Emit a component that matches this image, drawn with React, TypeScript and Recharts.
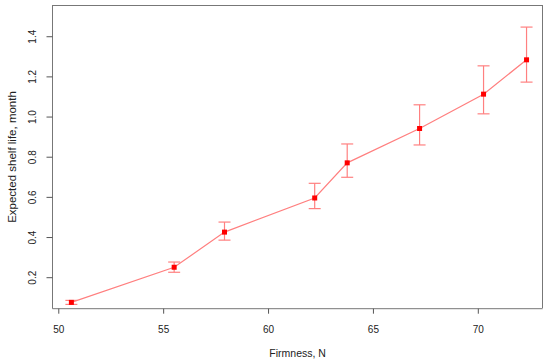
import React from "react";
import { LineChart, Line, XAxis, YAxis, ErrorBar } from "recharts";

const firmness = [50.6, 55.5, 57.9, 62.2, 63.75, 67.2, 70.25, 72.3];
const shelfLife = [0.077, 0.252, 0.427, 0.597, 0.772, 0.943, 1.114, 1.285];
const lower = [0.067, 0.227, 0.387, 0.544, 0.7, 0.861, 1.016, 1.174];
const upper = [0.087, 0.278, 0.477, 0.67, 0.866, 1.061, 1.255, 1.448];
const xTicks = [50, 55, 60, 65, 70];
const yTicks = [0.2, 0.4, 0.6, 0.8, 1.0, 1.2, 1.4];

const data = firmness.map((f, i) => ({
  x: f,
  y: shelfLife[i],
  err: [shelfLife[i] - lower[i], upper[i] - shelfLife[i]],
}));

const FONT = "'Liberation Sans', Arial, Helvetica, sans-serif";
const TEXT = "#222";
const BOX = "#777";

const YTick = (props: any) => {
  const { y, payload } = props;
  const cx = 33;
  return (
    <text
      x={cx}
      y={y}
      dy="0.35em"
      transform={`rotate(-90, ${cx}, ${y})`}
      textAnchor="middle"
      fontSize={10}
      fill={TEXT}
      fontFamily={FONT}
    >
      {Number(payload.value).toFixed(1)}
    </text>
  );
};

const XTick = (props: any) => {
  const { x, payload } = props;
  return (
    <text x={x} y={332.5} textAnchor="middle" fontSize={10} fill={TEXT} fontFamily={FONT}>
      {payload.value}
    </text>
  );
};

const Dot = (props: any) => {
  const { cx, cy, index } = props;
  if (cx == null || cy == null) return <g key={index} />;
  return <rect key={index} x={cx - 2.5} y={cy - 2.5} width={5} height={5} fill="#ff0000" />;
};

export default function App() {
  return (
    <div style={{ position: "absolute", left: 0, top: 0, width: 550, height: 363 }}>
      <LineChart
        width={550}
        height={363}
        data={data}
        margin={{ top: 5, right: 7.3, bottom: 0, left: 0 }}
        style={{ fontFamily: FONT, background: "#fff" }}
      >
        <XAxis
          dataKey="x"
          type="number"
          domain={[49.7, 73.07]}
          ticks={xTicks}
          allowDataOverflow
          height={54.3}
          tick={<XTick />}
          tickSize={5}
          tickLine={{ stroke: "#555" }}
          axisLine={{ stroke: BOX }}
          label={{
            value: "Firmness, N",
            position: "insideBottom",
            offset: 6,
            fontSize: 10.5,
            fill: TEXT,
            fontFamily: FONT,
          }}
        />
        <YAxis
          type="number"
          domain={[0.0456, 1.558]}
          ticks={yTicks}
          allowDataOverflow
          width={52.5}
          tick={<YTick />}
          tickSize={6}
          tickLine={{ stroke: "#555" }}
          axisLine={{ stroke: BOX }}
          label={(p: any) => (
            <text
              x={11.5}
              y={157}
              dy="0.35em"
              transform="rotate(-90, 11.5, 157)"
              textAnchor="middle"
              fontSize={11.5}
              fill={TEXT}
              fontFamily={FONT}
            >
              Expected shelf life, month
            </text>
          )}
        />
        <Line
          dataKey="y"
          stroke="#ff7f7f"
          strokeWidth={1.2}
          dot={<Dot />}
          activeDot={false}
          isAnimationActive={false}
        >
          <ErrorBar
            dataKey="err"
            direction="y"
            width={6}
            stroke="#ff8080"
            strokeWidth={1.2}
            isAnimationActive={false}
          />
        </Line>
      </LineChart>
      <div
        style={{
          position: "absolute",
          left: 52,
          top: 4.5,
          width: 490.7,
          height: 303.7,
          borderTop: `1px solid ${BOX}`,
          borderRight: `1px solid ${BOX}`,
          boxSizing: "border-box",
          pointerEvents: "none",
        }}
      />
    </div>
  );
}
